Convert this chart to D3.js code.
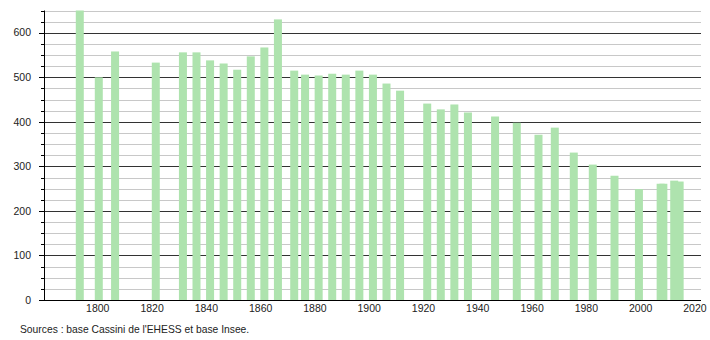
<!DOCTYPE html>
<html><head><meta charset="utf-8">
<script src="https://cdn.jsdelivr.net/npm/d3@7"></script>
<style>body{margin:0;background:#fff}svg{display:block}text{font-family:"Liberation Sans",Arial,sans-serif}</style>
</head><body>
<script>
const years = [1793,1800,1806,1821,1831,1836,1841,1846,1851,1856,1861,1866,1872,1876,1881,1886,1891,1896,1901,1906,1911,1921,1926,1931,1936,1946,1954,1962,1968,1975,1982,1990,1999,2007,2008,2012,2014];
const population = [650,500,558,533,556,556,538,531,517,547,567,630,515,506,504,508,506,515,506,486,470,441,428,439,421,412,398,371,387,331,304,279,249,261,261,268,266];
const xTickYears = [1800,1820,1840,1860,1880,1900,1920,1940,1960,1980,2000,2020];
const yMajorTicks = [0,100,200,300,400,500,600];
const yMinorTicks = d3.range(0, 651, 25);
const sourceText = "Sources : base Cassini de l'EHESS et base Insee.";

const W = 710, H = 340;
const svg = d3.select("body").append("svg").attr("width", W).attr("height", H);

const x = d3.scaleLinear().domain([1780, 2021.5]).range([44.5, 700]);
const y = d3.scaleLinear().domain([0, 650]).range([300, 10.5]);

// minor gridlines
svg.append("g").selectAll("line").data(yMinorTicks.filter(d => d % 100 !== 0)).join("line")
  .attr("x1", 44.5).attr("x2", 701)
  .attr("y1", d => Math.round(y(d)) + 0.5).attr("y2", d => Math.round(y(d)) + 0.5)
  .attr("stroke", "#c8c8c8").attr("stroke-width", 1);
// major gridlines
svg.append("g").selectAll("line").data(yMajorTicks.filter(d => d > 0)).join("line")
  .attr("x1", 44.5).attr("x2", 701)
  .attr("y1", d => Math.round(y(d)) + 0.5).attr("y2", d => Math.round(y(d)) + 0.5)
  .attr("stroke", "#333").attr("stroke-width", 1);

// bars
const bw = 8;
svg.append("g").selectAll("rect").data(years.map((yr, i) => ({yr, v: population[i]}))).join("rect")
  .attr("x", d => x(d.yr) - bw / 2)
  .attr("width", bw)
  .attr("y", d => y(d.v))
  .attr("height", d => y(0) - y(d.v))
  .attr("fill", "#aee3ae");

// y axis
const yAxis = svg.append("g");
yAxis.append("line").attr("x1", 44.5).attr("x2", 44.5).attr("y1", y(650)).attr("y2", 300.5)
  .attr("stroke", "#000").attr("stroke-width", 1);
yAxis.selectAll(".minor").data(yMinorTicks).join("line")
  .attr("x1", d => d % 100 === 0 ? 39 : 41).attr("x2", 44.5)
  .attr("y1", d => Math.round(y(d)) + 0.5).attr("y2", d => Math.round(y(d)) + 0.5)
  .attr("stroke", "#000").attr("stroke-width", 1);
yAxis.selectAll("text").data(yMajorTicks).join("text")
  .attr("x", 31).attr("y", d => y(d)).attr("dy", "0.35em")
  .attr("text-anchor", "end").attr("font-size", 10.5).attr("fill", "#222")
  .text(d => d);

// x axis
svg.append("line").attr("x1", 39).attr("x2", 701).attr("y1", 300.5).attr("y2", 300.5)
  .attr("stroke", "#000").attr("stroke-width", 1);
svg.append("g").selectAll("text").data(xTickYears).join("text")
  .attr("x", d => x(d) - 1).attr("y", 312)
  .attr("text-anchor", "middle").attr("font-size", 10.5).attr("fill", "#222")
  .text(d => d);

svg.append("text").attr("x", 20).attr("y", 333).attr("font-size", 10.3).attr("fill", "#222")
  .text(sourceText);
</script>
</body></html>
